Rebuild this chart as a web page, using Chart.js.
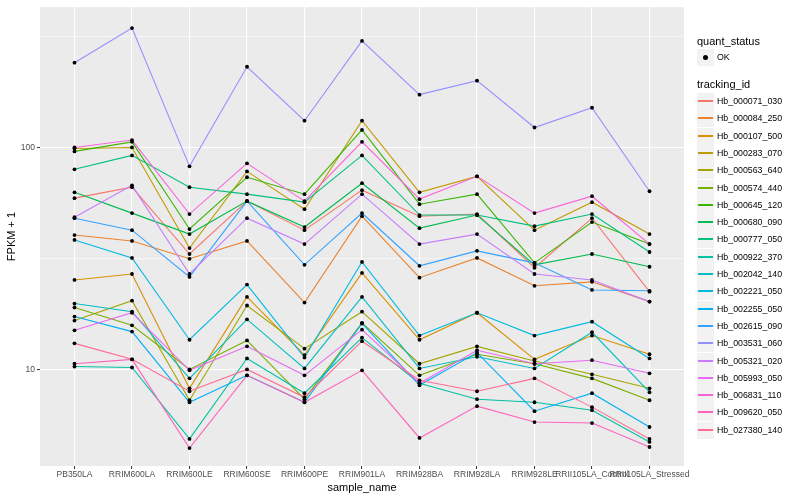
<!DOCTYPE html>
<html><head><meta charset="utf-8">
<script src="https://cdn.jsdelivr.net/npm/chart.js@4.4.1/dist/chart.umd.min.js"></script>
<style>
html,body{margin:0;padding:0;background:#fff;}
#wrap{position:relative;width:800px;height:500px;font-family:"Liberation Sans",Arial,sans-serif;overflow:hidden;}
#c{position:absolute;left:0;top:0;}
.lt{position:absolute;font-size:11px;line-height:12px;color:#000;white-space:nowrap;}
.key{position:absolute;width:17px;height:17px;background:#F2F2F2;}
.lab{position:absolute;font-size:8.8px;line-height:10px;color:#000;white-space:nowrap;}
.seg{position:absolute;left:1px;width:15px;height:2px;top:7px;}
.dot{position:absolute;left:6px;top:6px;width:5px;height:5px;border-radius:50%;background:#000;}
</style></head>
<body>
<div id="wrap"><canvas id="c" width="800" height="500"></canvas><div id="legend"></div></div>
<script>
const sampleNames = ["PB350LA","RRIM600LA","RRIM600LE","RRIM600SE","RRIM600PE","RRIM901LA","RRIM928BA","RRIM928LA","RRIM928LE","RRII105LA_Control","RRII105LA_Stressed"];
const trackingIds = ["Hb_000071_030","Hb_000084_250","Hb_000107_500","Hb_000283_070","Hb_000563_640","Hb_000574_440","Hb_000645_120","Hb_000680_090","Hb_000777_050","Hb_000922_370","Hb_002042_140","Hb_002221_050","Hb_002255_050","Hb_002615_090","Hb_003531_060","Hb_005321_020","Hb_005993_050","Hb_006831_110","Hb_009620_050","Hb_027380_140"];
const quantStatus = ["OK"];
const yMajorTicks = [10, 100];
const yMinorTicks = [31.62, 316.2];

// FPKM + 1 values, one array per tracking_id, in sampleNames order
const Hb_000071_030 = [59.1, 66.2, 33.1, 57.3, 42.4, 64.2, 49.0, 50.1, 28.7, 48.0, 22.4];
const Hb_000084_250 = [40.3, 37.9, 31.5, 37.9, 20.0, 49.0, 25.9, 31.8, 23.8, 24.8, 20.2];
const Hb_000107_500 = [25.3, 26.9, 8.22, 21.2, 11.6, 27.2, 13.6, 18.0, 11.1, 14.2, 11.7];
const Hb_000283_070 = [99.0, 100, 35.2, 78.0, 52.7, 132, 62.8, 74.1, 42.4, 56.7, 40.7];
const Hb_000563_640 = [16.6, 20.4, 7.26, 19.4, 12.4, 18.2, 10.6, 12.7, 10.9, 9.50, 8.22];
const Hb_000574_440 = [19.0, 15.8, 10.0, 13.5, 7.34, 16.2, 9.40, 11.7, 10.6, 9.11, 7.26];
const Hb_000645_120 = [96.0, 106, 42.9, 73.4, 61.6, 120, 55.5, 61.6, 30.2, 46.1, 36.7];
const Hb_000680_090 = [62.8, 50.6, 40.7, 57.3, 43.8, 69.0, 43.3, 49.6, 29.6, 33.1, 29.0];
const Hb_000777_050 = [79.7, 92.1, 66.2, 61.6, 56.7, 92.1, 49.6, 49.6, 44.2, 50.1, 33.8];
const Hb_000922_370 = [10.3, 10.2, 4.86, 11.2, 7.81, 13.9, 8.66, 7.34, 7.11, 6.55, 4.71];
const Hb_002042_140 = [19.8, 18.2, 9.11, 16.8, 10.1, 21.2, 10.1, 11.4, 10.1, 14.7, 7.89];
const Hb_002221_050 = [38.3, 31.8, 13.6, 24.1, 11.3, 30.5, 14.2, 18.0, 14.2, 16.4, 11.2];
const Hb_002255_050 = [17.3, 14.8, 7.11, 9.40, 7.11, 16.1, 8.48, 11.9, 6.48, 7.81, 5.50];
const Hb_002615_090 = [48.0, 42.4, 26.1, 57.3, 29.6, 50.6, 29.3, 34.2, 30.2, 22.8, 22.6];
const Hb_003531_060 = [241, 345, 82.2, 231, 132, 302, 173, 200, 123, 151, 63.5];
const Hb_005321_020 = [48.5, 67.5, 26.9, 48.0, 36.7, 61.6, 36.7, 40.7, 26.9, 25.3, 20.2];
const Hb_005993_050 = [15.0, 18.0, 9.90, 12.7, 9.40, 15.1, 8.66, 12.2, 10.6, 11.0, 9.60];
const Hb_006831_110 = [100, 108, 50.1, 84.8, 57.3, 106, 58.5, 74.1, 50.6, 60.3, 36.7];
const Hb_009620_050 = [10.6, 11.1, 4.42, 9.40, 7.11, 9.90, 4.91, 6.83, 5.79, 5.73, 4.47];
const Hb_027380_140 = [13.1, 11.1, 7.97, 10.0, 7.49, 13.4, 8.93, 7.97, 9.11, 6.76, 4.86];

const seriesValues = [Hb_000071_030, Hb_000084_250, Hb_000107_500, Hb_000283_070, Hb_000563_640, Hb_000574_440, Hb_000645_120, Hb_000680_090, Hb_000777_050, Hb_000922_370, Hb_002042_140, Hb_002221_050, Hb_002255_050, Hb_002615_090, Hb_003531_060, Hb_005321_020, Hb_005993_050, Hb_006831_110, Hb_009620_050, Hb_027380_140];
const seriesColors = ["#F8766D","#EA8331","#D89000","#C09B00","#A3A500","#7CAE00","#39B600","#00BB4E","#00BF7D","#00C1A3","#00BFC4","#00BAE0","#00B0F6","#35A2FF","#9590FF","#C77CFF","#E76BF3","#FA62DB","#FF62BC","#FF6C91"];

Chart.defaults.font.family = '"Liberation Sans", Arial, sans-serif';

const datasets = trackingIds.map((id, i) => ({
  label: id,
  data: seriesValues[i].map((v, j) => ({x: j, y: v})),
  borderColor: seriesColors[i],
  backgroundColor: seriesColors[i],
  borderWidth: 1.1,
  pointRadius: 0,
  pointHoverRadius: 0,
  tension: 0,
  fill: false,
  order: trackingIds.length - i
}));

const panelBg = {
  id: 'panelBg',
  beforeDraw(chart) {
    const a = chart.chartArea, ctx = chart.ctx;
    ctx.save(); ctx.fillStyle = '#EBEBEB';
    ctx.fillRect(a.left, a.top, a.right - a.left, a.bottom - a.top);
    ctx.restore();
  }
};
const pointsLayer = {
  id: 'pointsLayer',
  afterDatasetsDraw(chart) {
    const ctx = chart.ctx; ctx.save(); ctx.fillStyle = '#000';
    chart.data.datasets.forEach((d, i) => {
      chart.getDatasetMeta(i).data.forEach(el => {
        ctx.beginPath(); ctx.arc(el.x, el.y, 1.9, 0, Math.PI * 2); ctx.fill();
      });
    });
    ctx.restore();
  }
};
const isMajor = v => yMajorTicks.some(t => Math.abs(t - v) < 1e-6);

new Chart(document.getElementById('c'), {
  type: 'line',
  data: { datasets },
  plugins: [panelBg, pointsLayer],
  options: {
    responsive: false,
    animation: false,
    events: [],
    layout: { padding: { left: 0, right: 116, top: 5, bottom: 0 } },
    plugins: { legend: { display: false }, tooltip: { enabled: false } },
    scales: {
      x: {
        type: 'linear',
        min: -0.6,
        max: sampleNames.length - 1 + 0.6,
        afterBuildTicks: s => { s.ticks = sampleNames.map((_, i) => ({ value: i })); },
        afterFit: s => { s.height = 34; },
        ticks: { autoSkip: false, maxRotation: 0, minRotation: 0, color: '#4D4D4D', font: { size: 8.5 }, padding: 1,
                 callback: v => sampleNames[v] },
        grid: { color: '#FFFFFF', lineWidth: 1.1, drawTicks: true, tickLength: 3, tickColor: '#333333', tickWidth: 1 },
        border: { display: false },
        title: { display: true, text: 'sample_name', color: '#000', font: { size: 11 }, padding: { top: 0, bottom: 5 } }
      },
      y: {
        type: 'logarithmic',
        min: 3.67,
        max: 429,
        afterBuildTicks: s => { s.ticks = yMinorTicks.concat(yMajorTicks).sort((a, b) => a - b).map(v => ({ value: v })); },
        afterFit: s => { s.width = 40; },
        ticks: { color: '#4D4D4D', font: { size: 8.5 }, padding: 2, autoSkip: false,
                 callback: v => isMajor(v) ? String(v) : '' },
        grid: {
          color: '#FFFFFF',
          lineWidth: c => (c.tick && isMajor(c.tick.value)) ? 1.1 : 0.55,
          tickLength: 3,
          tickWidth: 1,
          tickColor: c => (c.tick && isMajor(c.tick.value)) ? '#333333' : 'rgba(0,0,0,0)'
        },
        border: { display: false },
        title: { display: true, text: 'FPKM + 1', color: '#000', font: { size: 11 }, padding: { top: 5, bottom: 0 } }
      }
    }
  }
});

// legend (ggplot style)
const lg = document.getElementById('legend');
function add(html) { lg.insertAdjacentHTML('beforeend', html); }
add('<div class="lt" style="left:697px;top:35px;">quant_status</div>');
quantStatus.forEach((q, i) => {
  const cy = Math.round(57 + i * 17.3);
  add('<div class="key" style="left:697px;top:' + (cy - 8) + 'px;"><div class="dot"></div></div>');
  add('<div class="lab" style="left:717px;top:' + (cy - 5) + 'px;">' + q + '</div>');
});
add('<div class="lt" style="left:697px;top:78px;">tracking_id</div>');
trackingIds.forEach((id, i) => {
  const cy = Math.round(101 + i * 17.3);
  add('<div class="key" style="left:697px;top:' + (cy - 8) + 'px;"><div class="seg" style="background:' + seriesColors[i] + '"></div></div>');
  add('<div class="lab" style="left:717px;top:' + (cy - 5) + 'px;">' + id + '</div>');
});
</script>
</body></html>
